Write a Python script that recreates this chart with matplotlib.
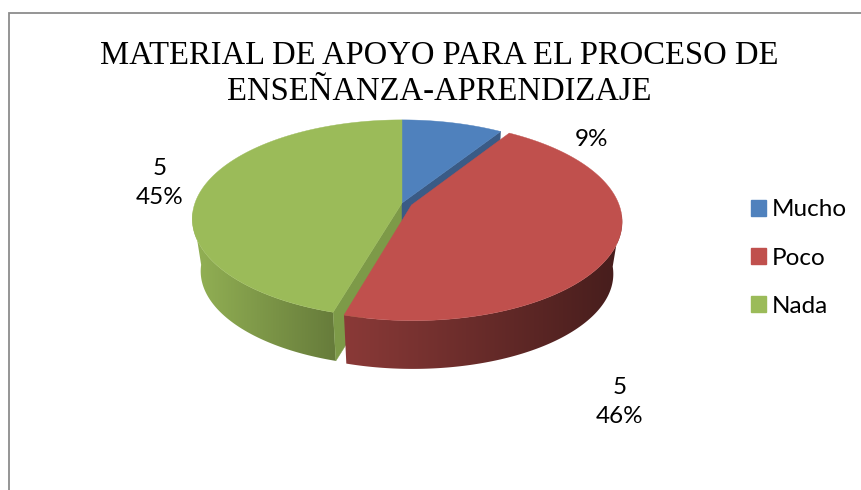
import numpy as np
import matplotlib
matplotlib.use("Agg")
import matplotlib.pyplot as plt
from matplotlib.patches import Patch, Polygon, Rectangle
from matplotlib.colors import to_rgb

title = "MATERIAL DE APOYO PARA EL PROCESO DE\nENSEÑANZA-APRENDIZAJE"
categories = ["Mucho", "Poco", "Nada"]
values = [1, 5, 5]
explode = [0, 0.05, 0]
slice_labels = ["9%", "5\n46%", "5\n45%"]
colors = ["#4f81bd", "#c0504d", "#9bbb59"]
wall_shade = [(1, 1), (0.72, 0.36), (0.95, 0.66)]

# pie geometry in pixels
cx, cy = 402, 203
rx, ry = 207, 96.4
persp = 0.16
depth = 53
shrink = 0.96


def project(ang, r=1.0, off=(0, 0), low=False):
    u = r * np.sin(ang) + off[0]
    v = -r * np.cos(ang) + off[1]
    d = 1 - persp * v
    s = shrink if low else 1
    x = cx + rx * s * u / d
    y = cy + ry * s * v / d + (depth if low else 0)
    return np.column_stack([x, y])


fig = plt.figure(figsize=(8.61, 4.9), dpi=100)
ax = fig.add_axes([0, 0, 1, 1])
ax.axis("off")

ax.add_patch(Rectangle((9, 13), 900, 500, fc="white", ec="#8c8c8c", lw=1.3, zorder=0))

edges = np.cumsum([0] + values) / sum(values) * 2 * np.pi
offsets = []
for i in range(3):
    mid = (edges[i] + edges[i + 1]) / 2
    offsets.append((explode[i] * np.sin(mid), -explode[i] * np.cos(mid)))


def draw_wall(i, z):
    ang = np.linspace(edges[i], edges[i + 1], 200)
    ang = ang[-np.cos(ang) > 0.08]
    top = project(ang, off=offsets[i])
    low = project(ang, off=offsets[i], low=True)
    outline = np.vstack([top, low[::-1]])
    xmin, xmax = outline[:, 0].min(), outline[:, 0].max()
    ymin, ymax = outline[:, 1].min(), outline[:, 1].max()
    # horizontal gradient, cut to the wall outline
    f = np.linspace(0, 1, 256)
    shade = np.interp(f, [0, 1], wall_shade[i])
    grad = np.array(to_rgb(colors[i]))[None, None, :] * shade[None, :, None]
    im = ax.imshow(grad, extent=(xmin, xmax, ymax, ymin), aspect="auto", interpolation="bilinear", zorder=z)
    clip = Polygon(outline, transform=ax.transData, fc="none", ec="none")
    ax.add_patch(clip)
    im.set_clip_path(clip)


def draw_cut(i, ang, color, z):
    p = np.vstack([project(np.array([0.0]), r=0, off=offsets[i]),
                   project(np.array([ang]), off=offsets[i]),
                   project(np.array([ang]), off=offsets[i], low=True),
                   project(np.array([0.0]), r=0, off=offsets[i], low=True)])
    ax.add_patch(Polygon(p, fc=color, ec=color, lw=0.3, zorder=z))


def draw_top(i, z):
    ang = np.linspace(edges[i], edges[i + 1], 200)
    p = np.vstack([project(np.array([0.0]), r=0, off=offsets[i]), project(ang, off=offsets[i])])
    ax.add_patch(Polygon(p, fc=colors[i], ec=colors[i], lw=0.3, zorder=z))


draw_wall(2, 1)
draw_cut(2, edges[2], "#7d9a48", 2)
draw_cut(0, edges[1], "#3a5b86", 3)
draw_top(0, 4)
draw_top(2, 5)
draw_wall(1, 6)
draw_top(1, 7)

ax.set_xlim(0, 861)
ax.set_ylim(490, 0)

ax.text(439, 74, title, family="Liberation Serif", fontsize=23.5, ha="center", va="center",
        linespacing=1.22, color="black", zorder=8)

label_font = "Lato"
ax.text(592, 139, slice_labels[0], family=label_font, fontsize=17.5, ha="center", va="center", zorder=8)
ax.text(620, 402, slice_labels[1], family=label_font, fontsize=17.5, ha="center", va="center", linespacing=1.5, zorder=8)
ax.text(160, 183, slice_labels[2], family=label_font, fontsize=17.5, ha="center", va="center", linespacing=1.5, zorder=8)

handles = [Patch(fc=c, ec=c) for c in colors]
ax.legend(handles, categories, loc="center left", bbox_to_anchor=(751 / 861, 1 - 258 / 490), frameon=False,
          prop={"family": label_font, "size": 17.5}, handlelength=0.62, handleheight=0.62, handletextpad=0.25,
          labelspacing=1.115, borderaxespad=0, borderpad=0)

fig.savefig("out.png", dpi=100)
